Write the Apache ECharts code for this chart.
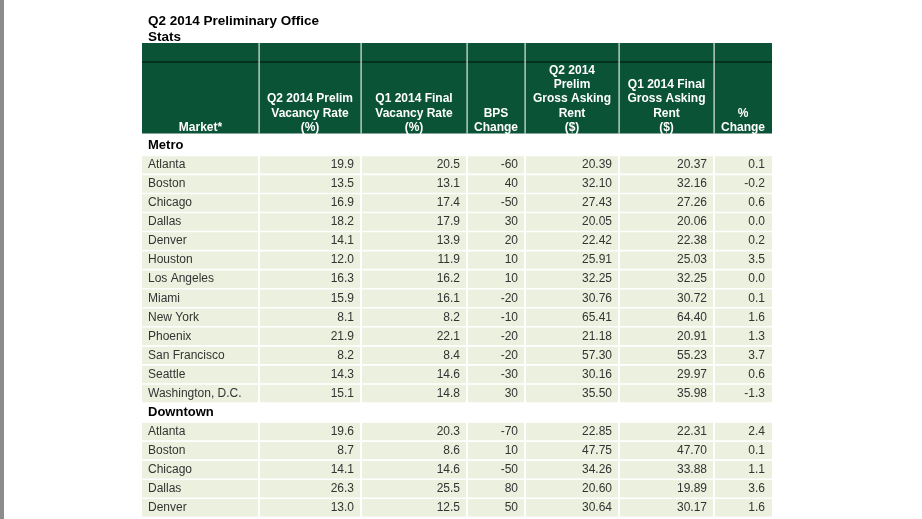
<!DOCTYPE html>
<html><head><meta charset="utf-8">
<script src="https://cdn.jsdelivr.net/npm/echarts@6/dist/echarts.min.js"></script>
<style>html,body{margin:0;padding:0;background:#fff}#c{width:922px;height:519px}</style>
</head><body><div id="c"></div><script>
// ---- data ----
const chartTitle = 'Q2 2014 Preliminary Office\nStats';
const headers = ['Market*', 'Q2 2014 Prelim\nVacancy Rate\n(%)', 'Q1 2014 Final\nVacancy Rate\n(%)', 'BPS\nChange', 'Q2 2014\nPrelim\nGross Asking\nRent\n($)', 'Q1 2014 Final\nGross Asking\nRent\n($)', '%\nChange'];
const sections = ['Metro', 'Downtown'];

const metroMarkets = ['Atlanta', 'Boston', 'Chicago', 'Dallas', 'Denver', 'Houston', 'Los Angeles', 'Miami', 'New York', 'Phoenix', 'San Francisco', 'Seattle', 'Washington, D.C.'];
const metroVacQ2 = [19.9, 13.5, 16.9, 18.2, 14.1, 12.0, 16.3, 15.9, 8.1, 21.9, 8.2, 14.3, 15.1];
const metroVacQ1 = [20.5, 13.1, 17.4, 17.9, 13.9, 11.9, 16.2, 16.1, 8.2, 22.1, 8.4, 14.6, 14.8];
const metroBps = [-60, 40, -50, 30, 20, 10, 10, -20, -10, -20, -20, -30, 30];
const metroRentQ2 = [20.39, 32.10, 27.43, 20.05, 22.42, 25.91, 32.25, 30.76, 65.41, 21.18, 57.30, 30.16, 35.50];
const metroRentQ1 = [20.37, 32.16, 27.26, 20.06, 22.38, 25.03, 32.25, 30.72, 64.40, 20.91, 55.23, 29.97, 35.98];
const metroPct = [0.1, -0.2, 0.6, 0.0, 0.2, 3.5, 0.0, 0.1, 1.6, 1.3, 3.7, 0.6, -1.3];

const downtownMarkets = ['Atlanta', 'Boston', 'Chicago', 'Dallas', 'Denver'];
const downtownVacQ2 = [19.6, 8.7, 14.1, 26.3, 13.0];
const downtownVacQ1 = [20.3, 8.6, 14.6, 25.5, 12.5];
const downtownBps = [-70, 10, -50, 80, 50];
const downtownRentQ2 = [22.85, 47.75, 34.26, 20.60, 30.64];
const downtownRentQ1 = [22.31, 47.70, 33.88, 19.89, 30.17];
const downtownPct = [2.4, 0.1, 1.1, 3.6, 1.6];

const decimals = [1, 1, 0, 2, 2, 1];

// ---- layout ----
const colEdges = [0, 117, 219, 325, 383, 477, 572, 630];
const gridLeft = 142, gridTop = 136.3, rowH = 19.05;
const headTop = 43, headBottom = 133.5, headLine = 62;
const FONT = '"Liberation Sans", Arial, sans-serif';

// build rows
const rows = [];
function addSection(name, markets, cols) {
  rows.push({ kind: 'section', label: name });
  markets.forEach((m, i) => rows.push({ kind: 'data', label: m, vals: cols.map(c => c[i]) }));
}
addSection(sections[0], metroMarkets, [metroVacQ2, metroVacQ1, metroBps, metroRentQ2, metroRentQ1, metroPct]);
addSection(sections[1], downtownMarkets, [downtownVacQ2, downtownVacQ1, downtownBps, downtownRentQ2, downtownRentQ1, downtownPct]);

function renderItem(params, api) {
  const idx = api.value(1);
  const row = rows[idx];
  const c = api.coord([0, idx]);
  const h = api.size([0, 1])[1];
  const yc = c[1];
  const xs = colEdges.map(e => api.coord([e, idx])[0]);
  const children = [];
  if (row.kind === 'section') {
    children.push({ type: 'text', style: { x: xs[0] + 6, y: yc, text: row.label, fill: '#000', font: 'bold 13px ' + FONT, align: 'left', verticalAlign: 'middle' } });
  } else {
    for (let k = 0; k < 7; k++) {
      children.push({ type: 'rect', shape: { x: xs[k] + (k === 0 ? 0 : 1), y: yc - h / 2 + 0.8, width: xs[k + 1] - xs[k] - (k === 0 ? 1 : 2) + (k === 6 ? 1 : 0), height: h - 1.6 }, style: { fill: '#EBF1DE' } });
    }
    children.push({ type: 'text', style: { x: xs[0] + 6, y: yc, text: row.label, fill: '#333', font: '12px ' + FONT, align: 'left', verticalAlign: 'middle' } });
    row.vals.forEach((v, k) => {
      children.push({ type: 'text', style: { x: xs[k + 2] - 7, y: yc, text: v.toFixed(decimals[k]), fill: '#333', font: '12px ' + FONT, align: 'right', verticalAlign: 'middle' } });
    });
  }
  return { type: 'group', children };
}

// header graphic
const headerEls = [
  { type: 'rect', shape: { x: gridLeft, y: headTop, width: colEdges[7], height: headBottom - headTop }, style: { fill: '#0B5337' } },
  { type: 'rect', shape: { x: gridLeft, y: headLine - 1, width: colEdges[7], height: 2 }, style: { fill: '#05301d' } }
];
for (let k = 1; k < 7; k++) {
  headerEls.push({ type: 'rect', shape: { x: gridLeft + colEdges[k] - 0.5, y: headTop, width: 1.2, height: headBottom - headTop }, style: { fill: '#dfe9e2' } });
}
headers.forEach((t, k) => {
  headerEls.push({ type: 'text', style: { x: gridLeft + (colEdges[k] + colEdges[k + 1]) / 2, y: headBottom + 1, text: t, fill: '#fff', font: 'bold 12px ' + FONT, lineHeight: 14.2, align: 'center', verticalAlign: 'bottom' } });
});
headerEls.push({ type: 'rect', shape: { x: 0, y: 0, width: 4, height: 519 }, style: { fill: '#8c8c8c' } });

const chart = echarts.init(document.getElementById('c'), null, { renderer: 'canvas' });
chart.setOption({
  animation: false,
  backgroundColor: '#fff',
  title: { text: chartTitle, left: 143, top: 9, textStyle: { fontFamily: FONT, fontWeight: 'bold', fontSize: 13.5, lineHeight: 15.5, color: '#000' } },
  grid: { left: gridLeft, top: gridTop, width: colEdges[7], height: rowH * rows.length },
  xAxis: { type: 'value', min: 0, max: colEdges[7], show: false },
  yAxis: { type: 'category', inverse: true, data: rows.map((r, i) => String(i)), show: false },
  graphic: headerEls,
  series: [{ type: 'custom', renderItem, encode: { x: 0, y: 1 }, data: rows.map((r, i) => [0, i]) }]
});
</script></body></html>
